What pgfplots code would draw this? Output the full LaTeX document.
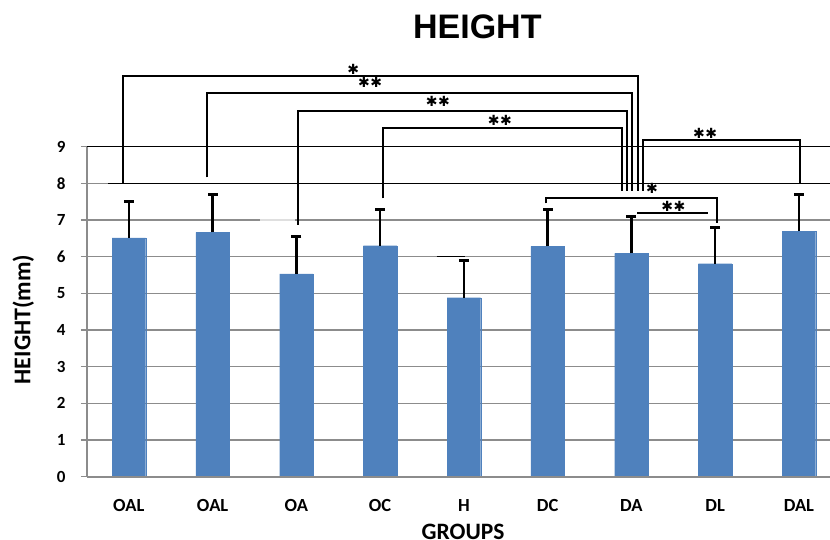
\documentclass[border=0pt]{standalone}
\usepackage{pgfplots}
\pgfplotsset{compat=1.18}
\usepackage{pgfplotstable}
\usepackage{fontspec}
\setmainfont{Carlito}
\newfontfamily\titlefont{Liberation Sans}
\newfontfamily\dejavu{DejaVu Sans}
\definecolor{barblue}{RGB}{79,129,189}
\definecolor{gridgray}{RGB}{140,140,140}
\newcommand{\st}{{\dejavu\fontsize{14}{14}\selectfont ✱}}
\newcommand{\stst}{{\dejavu\fontsize{14}{14}\selectfont ✱\hspace{0.5pt}✱}}
\pgfplotstableread{
x y e
0 6.51 0.99
1 6.66 1.04
2 5.53 1.03
3 6.30 0.99
4 4.88 1.02
5 6.28 1.01
6 6.09 1.00
7 5.81 0.98
8 6.70 1.00
}\bars
\begin{document}
\begin{tikzpicture}
\begin{axis}[
  scale only axis,
  width=742.9pt, height=476.7pt,
  xmin=-0.5, xmax=8.37,
  ymin=0, ymax=13,
  clip=false,
  axis line style={draw=none},
  ytick={0,1,...,9},
  ytick pos=left,
  tick align=outside,
  major tick length=6pt,
  ytick style={gridgray, line width=1.2pt},
  xtick={0,...,8},
  xticklabels={OAL,OAL,OA,OC,H,DC,DA,DL,DAL},
  xtick style={draw=none},
  ymajorgrids,
  grid style={gridgray, line width=1.2pt},
  /pgf/number format/assume math mode=true,
  yticklabel style={font=\bfseries\fontsize{17}{17}\selectfont, xshift=-12pt},
  xticklabel style={font=\bfseries\fontsize{18.5}{18.5}\selectfont, yshift=-13pt},
]
\addplot[ybar, bar width=0.4, fill=barblue, draw=barblue, line width=0.1pt,
  error bars/.cd, y dir=plus, y explicit, error mark=none,
  error bar style={draw=black, line width=2.6pt}]
  table[x=x, y=y, y error=e] {\bars};
% error bar caps
\addplot[only marks, mark=-, mark size=5pt, mark options={draw=black, line width=3pt}]
  table[x=x, y expr=\thisrow{y}+\thisrow{e}] {\bars};
% axis lines
\addplot[gridgray, line width=1.3pt] coordinates {(-0.5,0) (-0.5,9)};
\addplot[gridgray, line width=1.8pt] coordinates {(-0.5,0) (8.37,0)};
% black lines at 8 and 9
\addplot[black, line width=1.5pt] coordinates {(-0.249,8) (8.37,8)};
\addplot[black, line width=1.5pt] coordinates {(-0.5,9) (8.37,9)};
\addplot[black, line width=1.5pt] coordinates {(3.675,6) (4.013,6)};
\addplot[gray!25, line width=1.3pt] coordinates {(1.57,7) (1.98,7)};
% brackets
\addplot[black, line width=2.3pt] coordinates {(-0.067,8.0) (-0.067,10.935) (6.079,10.935) (6.079,7.80)};
\addplot[black, line width=2.3pt] coordinates {(0.929,8.165) (0.929,10.455) (6.011,10.455) (6.011,7.80)};
\addplot[black, line width=2.3pt] coordinates {(2.016,6.864) (2.016,9.973) (5.944,9.973) (5.944,7.80)};
\addplot[black, line width=2.3pt] coordinates {(3.03,7.592) (3.03,9.517) (5.884,9.517) (5.884,7.80)};
\addplot[black, line width=2.3pt] coordinates {(6.135,7.80) (6.135,9.182) (8.013,9.182) (8.013,8.0)};
\addplot[black, line width=2.3pt] coordinates {(4.977,7.456) (4.977,7.592) (7.018,7.592) (7.018,6.927)};
\addplot[black, line width=2.3pt] coordinates {(6.07,7.2) (6.918,7.2)};
% stars
\node at (axis cs:2.68,11.11) {\st};
\node at (axis cs:2.88,10.74) {\stst};
\node at (axis cs:3.69,10.23) {\stst};
\node at (axis cs:4.43,9.73) {\stst};
\node at (axis cs:6.88,9.365) {\stst};
\node at (axis cs:6.246,7.873) {\st};
\node at (axis cs:6.5,7.38) {\stst};
% title and labels
\node at (axis cs:4.16,12.26) {\titlefont\bfseries\fontsize{34}{34}\selectfont HEIGHT};
\node[rotate=90] at (axis cs:-1.261,4.29) {\bfseries\fontsize{24}{24}\selectfont HEIGHT(mm)};
\node[anchor=north, inner sep=0pt] at (axis cs:3.99,-1.30) {\bfseries\fontsize{23.5}{23.5}\selectfont GROUPS};
\end{axis}
\pgfresetboundingbox
\path[use as bounding box] (-87pt,-63.3pt) rectangle (743pt,476.7pt);
\end{tikzpicture}
\end{document}
